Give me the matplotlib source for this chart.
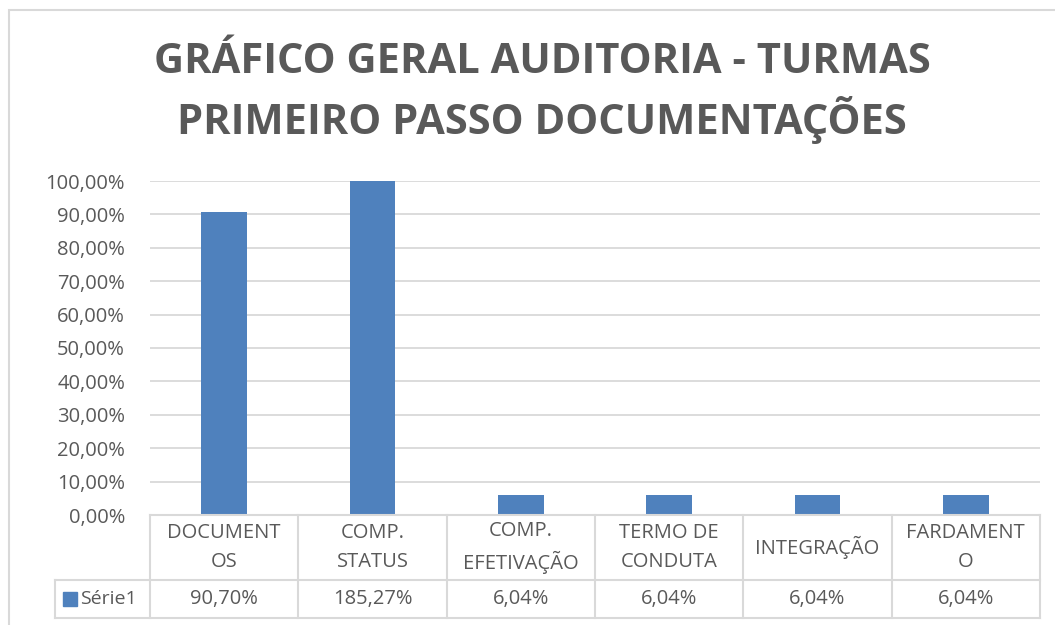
import matplotlib
matplotlib.use("Agg")
import matplotlib.pyplot as plt
from matplotlib.patches import Rectangle

categories = ["DOCUMENT\nOS", "COMP.\nSTATUS", "COMP.\nEFETIVAÇÃO", "TERMO DE\nCONDUTA", "INTEGRAÇÃO", "FARDAMENT\nO"]
values = [0.9070, 1.8527, 0.0604, 0.0604, 0.0604, 0.0604]
value_labels = ["90,70%", "185,27%", "6,04%", "6,04%", "6,04%", "6,04%"]
yticks = [0.0, 0.1, 0.2, 0.3, 0.4, 0.5, 0.6, 0.7, 0.8, 0.9, 1.0]
series_name = "Série1"
title = "GRÁFICO GERAL AUDITORIA - TURMAS\nPRIMEIRO PASSO DOCUMENTAÇÕES"

W, H = 1055, 625
BLUE = "#4F81BD"
TXT = "#595959"
GRID = "#D9D9D9"
FONT = ["Open Sans", "DejaVu Sans"]

fig = plt.figure(figsize=(W / 100, H / 100), dpi=100)
fig.patch.set_facecolor("white")

def fx(px):
    return px / W

def fy(py):
    return 1 - py / H

# chart frame
fig.patches.append(Rectangle((fx(9), fy(H + 5)), fx(1100), fy(10) - fy(H + 5),
                             transform=fig.transFigure, fill=False,
                             edgecolor=GRID, linewidth=1.5))

# main axes
left, right = 150, 1040
top, bottom = 181, 515
ax = fig.add_axes([fx(left), fy(bottom), fx(right - left), fy(top) - fy(bottom)])
x = list(range(len(categories)))
ax.bar(x, values, width=0.31, color=BLUE, zorder=3)
ax.set_xlim(-0.5, len(categories) - 0.5)
ax.set_ylim(0, 1.0)
ax.set_yticks(yticks)
ax.set_yticklabels([f"{v*100:.2f}%".replace(".", ",") for v in yticks],
                   fontsize=14.5, color=TXT, family=FONT)
ax.tick_params(axis="y", length=0, pad=18)
ax.set_xticks([])
for s in ax.spines.values():
    s.set_visible(False)
ax.yaxis.grid(True, color=GRID, linewidth=1.3, zorder=0)
ax.set_axisbelow(True)

# data table axes
ttop, tmid, tbot = 515, 580, 618
tax = fig.add_axes([fx(left), fy(tbot), fx(right - left), fy(ttop) - fy(tbot)])
tax.set_xlim(-0.5, len(categories) - 0.5)
tax.set_ylim(0, tbot - ttop)
tax.axis("off")
h_val = tbot - tmid
h_all = tbot - ttop
unit = (right - left) / len(categories)
leg_left = -0.5 - (left - 55) / unit

lk = dict(color=GRID, linewidth=1.5, clip_on=False)
tax.plot([-0.5, len(categories) - 0.5], [h_all, h_all], **lk)
tax.plot([leg_left, len(categories) - 0.5], [h_val, h_val], **lk)
tax.plot([leg_left, len(categories) - 0.5], [0, 0], **lk)
tax.plot([leg_left, leg_left], [0, h_val], **lk)
for i in range(len(categories) + 1):
    tax.plot([i - 0.5, i - 0.5], [0, h_all], **lk)

for i, (c, v) in enumerate(zip(categories, value_labels)):
    tax.text(i, h_val + (h_all - h_val) / 2, c, ha="center", va="center",
             fontsize=14.5, color=TXT, family=FONT, linespacing=1.55)
    tax.text(i, h_val / 2, v, ha="center", va="center",
             fontsize=14.5, color=TXT, family=FONT)

# legend key
tax.add_patch(Rectangle((leg_left + 8 / unit, h_val / 2 - 7), 14 / unit, 14,
                        color=BLUE, clip_on=False))
tax.text(leg_left + 25 / unit, h_val / 2, series_name, ha="left", va="center",
         fontsize=14, color=TXT, family=FONT)

# title
fig.text(fx(542), fy(93), title, ha="center", va="center", fontsize=30,
         fontweight="bold", color=TXT, family=FONT, linespacing=1.33)

fig.savefig("out.png", dpi=100, facecolor="white")
